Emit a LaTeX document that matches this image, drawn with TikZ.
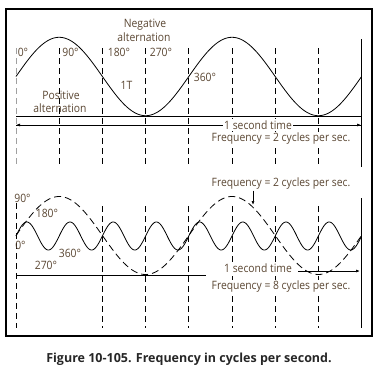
\documentclass[tikz,border=0pt]{standalone}
\usepackage{fontspec}
\setmainfont{Open Sans}
\newfontfamily\labfont{Open Sans}[FakeStretch=0.9]
\usetikzlibrary{arrows.meta}
\definecolor{lbl}{RGB}{90,70,50}
\definecolor{gline}{RGB}{160,160,160}
\tikzset{
  vdash/.style={line width=0.9pt, dash pattern=on 6pt off 4pt},
  wave/.style={line width=0.8pt},
  lab/.style={text=lbl, font=\labfont\fontsize{11.5}{12}\selectfont, inner sep=0.5pt},
  wlab/.style={lab, fill=white, inner sep=1.5pt},
  tip/.style={-{Latex[length=4pt,width=3pt]}, line width=0.7pt},
}
\begin{document}
\begin{tikzpicture}[x=1pt,y=-1pt]
\useasboundingbox (0,0) rectangle (380,372);
\draw[line width=1.3pt] (6,9) rectangle (372,336);
% ---------- top panel ----------
\coordinate (t0a) at (16,48); \coordinate (t0b) at (16,166);
\draw[vdash, gline] (t0a) -- (t0b);
\foreach \i in {1,...,7} {
  \coordinate (ta\i) at ({16+43.2*\i},48);
  \coordinate (tb\i) at ({16+43.2*\i},166);
  \draw[vdash] (ta\i) -- (tb\i);
}
\coordinate (tra) at (361,39); \coordinate (trb) at (361,167);
\draw[line width=0.9pt] (tra) -- (trb);
\coordinate (axl) at (16,116.5); \coordinate (axr) at (361,116.5);
\draw[line width=0.9pt] (axl) -- (axr);
\draw[wave] plot[domain=0:720, samples=240] ({16+0.48*\x},{76.5-39.2*sin(\x)});
% arrow line
\coordinate (al) at (16,125); \coordinate (ar) at (361,125);
\draw[tip] (ar) -- (al);
\draw[tip] (al) -- (ar);
\node[wlab] (sec1) at (258,125) {1 second time};
\node[wlab] (f1) at (281,139) {Frequency = 2 cycles per sec.};
% labels top
\node[lab] (neg1) at (145,25) {Negative};
\node[lab] (neg2) at (144,37) {alternation};
\node[lab] (pos1) at (61,95) {Positive};
\node[lab] (pos2) at (60,108) {alternation};
\node[lab] (d0t) at (23,52) {0°};
\node[lab] (d90t) at (70.5,52) {90°};
\node[lab] (d180t) at (119,52) {180°};
\node[lab] (d270t) at (161,52) {270°};
\node[lab] (oneT) at (126.5,85) {1T};
\node[lab] (d360t) at (205,77) {360°};
% ---------- bottom panel ----------
\coordinate (b0a) at (16,203); \coordinate (b0b) at (16,328);
\draw[vdash] (b0a) -- (b0b);
\foreach \i in {2,...,7} {
  \coordinate (ba\i) at ({16+43.2*\i},206);
  \coordinate (bb\i) at ({16+43.2*\i},328);
  \draw[vdash] (ba\i) -- (bb\i);
}
\coordinate (bra) at (361,198); \coordinate (brb) at (361,328);
\draw[line width=0.9pt] (bra) -- (brb);
\coordinate (bxl) at (16,275.5); \coordinate (bxm) at (206,275.5);
\draw[line width=0.9pt] (bxl) -- (bxm);
\coordinate (bal) at (298,271); \coordinate (bar) at (360,271);
\draw[tip] (bal) -- (bar);
\draw[wave, dash pattern=on 7pt off 4pt] plot[domain=0:720, samples=240] ({16+0.48*\x},{235.5-39*sin(\x)});
\draw[wave] plot[domain=0:720, samples=500] ({16+0.48*\x},{236-14*sin(4*\x)});
\node[wlab, inner sep=0.5pt] (sec2) at (258,268) {1 second time};
\node[wlab] (f8) at (281,287) {Frequency = 8 cycles per sec.};
\node[lab] (f2) at (281,184) {Frequency = 2 cycles per sec.};
\coordinate (f2a) at (253,190.5); \coordinate (f2b) at (253,205);
\draw[tip] (f2a) -- (f2b);
\node[lab] (d90b) at (22.5,198) {90°};
\node[lab] (d180b) at (47,213) {180°};
\node[lab] (d0b) at (20.5,245) {0°};
\node[lab] (d360b) at (70,253) {360°};
\node[lab] (d270b) at (46,265) {270°};
% caption
\node[font=\bfseries\fontsize{12.5}{14}\selectfont, text=black!85] (cap) at (189,359) {Figure 10-105. Frequency in cycles per second.};
\end{tikzpicture}
\end{document}
